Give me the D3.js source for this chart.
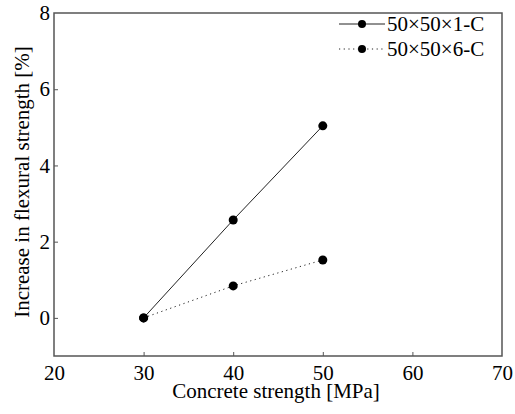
<!DOCTYPE html>
<html>
<head>
<meta charset="utf-8">
<script src="https://cdn.jsdelivr.net/npm/d3@7"></script>
<style>
  body { margin: 0; background: #fff; }
</style>
</head>
<body>
<div id="canvas"></div>
<script>
// data
const strength = [30, 40, 50];
const series1 = [0, 2.57, 5.04];
const series2 = [0, 0.84, 1.52];
const seriesNames = ['50×50×1-C', '50×50×6-C'];
const xTicks = [20, 30, 40, 50, 60, 70];
const yTicks = [0, 2, 4, 6, 8];

const FONT = "'Liberation Serif', 'Times New Roman', serif";

const svgWidth = 515, svgHeight = 414;
const margin = { top: 13, right: 13, bottom: 58, left: 54 };
const width = svgWidth - margin.left - margin.right,
  height = svgHeight - margin.top - margin.bottom;

const svg = d3.select('#canvas').append('svg')
  .attr('width', svgWidth)
  .attr('height', svgHeight)
  .attr('font-family', FONT);

const g = svg.append('g')
  .attr('transform', `translate(${margin.left},${margin.top})`);

const xScale = d3.scaleLinear().domain([20, 70]).range([0, width]);
const yScale = d3.scaleLinear().domain([-1, 8]).range([height, 0]);

// frame
g.append('rect')
  .attr('x', 0).attr('y', 0)
  .attr('width', width).attr('height', height)
  .attr('fill', 'none')
  .attr('stroke', '#555')
  .attr('stroke-width', 1.5);

// axes, ticks pointing inward
const xAxis = g.append('g')
  .attr('transform', `translate(0,${height})`)
  .call(d3.axisBottom(xScale).tickValues(xTicks).tickSizeInner(-4).tickSizeOuter(0).tickPadding(9));
const yAxis = g.append('g')
  .call(d3.axisLeft(yScale).tickValues(yTicks).tickSizeInner(-4).tickSizeOuter(0).tickPadding(4));

[xAxis, yAxis].forEach(a => {
  a.attr('font-family', FONT).attr('font-size', 21);
  a.select('.domain').remove();
  a.selectAll('.tick line').attr('stroke', '#555');
  a.selectAll('.tick text').attr('fill', '#000');
});
xAxis.selectAll('.tick line').filter(d => d === 20 || d === 70).remove();
yAxis.selectAll('.tick line').filter(d => d === 8).remove();

// axis titles
svg.append('text')
  .attr('x', 276)
  .attr('y', 398)
  .attr('text-anchor', 'middle')
  .attr('font-size', 21)
  .text('Concrete strength [MPa]');

svg.append('text')
  .attr('transform', 'translate(29,182) rotate(-90)')
  .attr('text-anchor', 'middle')
  .attr('font-size', 21)
  .text('Increase in flexural strength [%]');

// series
const allSeries = [series1, series2];
const dashes = [null, '1.2,3.5'];
const line = d3.line()
  .x((d, i) => xScale(strength[i]))
  .y(d => yScale(d));

allSeries.forEach((s, k) => {
  g.append('path')
    .datum(s)
    .attr('d', line)
    .attr('fill', 'none')
    .attr('stroke', '#222')
    .attr('stroke-width', 1)
    .attr('stroke-dasharray', dashes[k]);
  g.selectAll(`.pt${k}`)
    .data(s)
    .enter()
    .append('circle')
    .attr('class', `pt${k}`)
    .attr('cx', (d, i) => xScale(strength[i]))
    .attr('cy', d => yScale(d))
    .attr('r', 4.5)
    .attr('fill', '#000');
});

// legend
const legend = svg.append('g');
seriesNames.forEach((name, k) => {
  const y = 24 + k * 25;
  legend.append('line')
    .attr('x1', 339).attr('x2', 385)
    .attr('y1', y).attr('y2', y)
    .attr('stroke', '#222')
    .attr('stroke-width', 1)
    .attr('stroke-dasharray', dashes[k]);
  legend.append('circle')
    .attr('cx', 362).attr('cy', y).attr('r', 4)
    .attr('fill', '#000');
  legend.append('text')
    .attr('x', 387).attr('y', y + 7)
    .attr('font-size', 21)
    .text(name);
});
</script>
</body>
</html>
